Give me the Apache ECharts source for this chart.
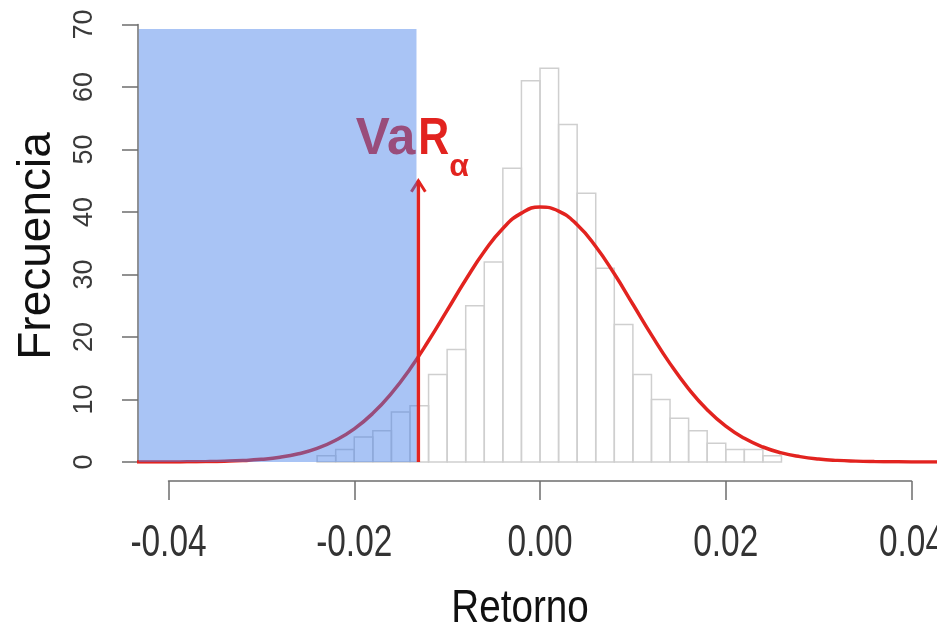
<!DOCTYPE html>
<html><head><meta charset="utf-8">
<script src="https://cdn.jsdelivr.net/npm/echarts/dist/echarts.min.js"></script>
<style>html,body{margin:0;padding:0;background:#fff}#c{width:937px;height:628px}</style>
</head><body><div id="c"></div>
<script>
// Histogram bins (left edges) and counts
const binStarts = [-0.024,-0.022,-0.020,-0.018,-0.016,-0.014,-0.012,-0.010,-0.008,-0.006,-0.004,-0.002,
                   0.000,0.002,0.004,0.006,0.008,0.010,0.012,0.014,0.016,0.018,0.020,0.022,0.024];
const binCounts = [1,2,4,5,8,9,14,18,25,32,47,61,63,54,43,31,22,14,10,7,5,3,2,2,1];
const BIN_WIDTH = 0.002;

// Fitted normal curve
const curveX = [-0.044,-0.042,-0.040,-0.038,-0.036,-0.034,-0.032,-0.030,-0.028,-0.026,-0.024,-0.022,-0.020,
                -0.018,-0.016,-0.014,-0.012,-0.010,-0.008,-0.006,-0.004,-0.002,0.000,0.002,0.004,0.006,
                0.008,0.010,0.012,0.014,0.016,0.018,0.020,0.022,0.024,0.026,0.028,0.030,0.032,0.034,
                0.036,0.038,0.040,0.042,0.044];
const curveY = [0.00,0.01,0.01,0.03,0.06,0.12,0.23,0.43,0.76,1.32,2.18,3.48,5.30,
                7.79,10.99,14.89,19.39,24.25,29.16,33.67,37.37,39.82,40.79,40.14,37.96,34.49,
                30.11,25.24,20.34,15.74,11.71,8.37,5.74,3.79,2.40,1.46,0.86,0.48,0.26,0.14,
                0.07,0.03,0.01,0.01,0.00];

// VaR annotation and shaded tail
const varValue = -0.0131;
const arrowTop = 45;
const labelY = 47.4;
const shadeFrom = -0.0432, shadeTo = -0.0133, shadeTop = 69.3;

// Axis ticks
const xTicks = [-0.04, -0.02, 0.00, 0.02, 0.04];
const xTickLabels = ['-0.04', '-0.02', '0.00', '0.02', '0.04'];
const yTicks = [0, 10, 20, 30, 40, 50, 60, 70];

const RED = '#e2231f';
const AXIS = '#6e6e6e';

const chart = echarts.init(document.getElementById('c'), null, {renderer: 'canvas'});

const option = {
  animation: false,
  backgroundColor: '#fff',
  grid: [
    {left: 138.8, top: 24.5, width: 798.7, height: 437.5, outerBoundsMode: 'none', containLabel: false},
    {left: 168.5, top: 24.5, width: 743, height: 456.5, outerBoundsMode: 'none', containLabel: false},
    {left: 138, top: 24.5, width: 10, height: 437.5, outerBoundsMode: 'none', containLabel: false}
  ],
  xAxis: [
    {gridIndex: 0, type: 'value', min: -0.0432, max: 0.0428, show: false},
    {gridIndex: 1, type: 'value', min: xTicks[0], max: xTicks[xTicks.length-1], interval: 0.02,
     axisLine: {show: true, lineStyle: {color: AXIS, width: 1.5}},
     axisTick: {show: true, length: 19, lineStyle: {color: AXIS, width: 1.5}},
     splitLine: {show: false},
     axisLabel: {show: false}},
    {gridIndex: 2, type: 'value', show: false, min: 0, max: 1}
  ],
  yAxis: [
    {gridIndex: 0, type: 'value', min: 0, max: 70, show: false},
    {gridIndex: 1, type: 'value', min: 0, max: 1, show: false},
    {gridIndex: 2, type: 'value', position: 'left', min: yTicks[0], max: yTicks[yTicks.length-1], interval: 10,
     axisLine: {show: true, lineStyle: {color: AXIS, width: 1.5}},
     axisTick: {show: true, length: 16, lineStyle: {color: AXIS, width: 1.5}},
     splitLine: {show: false},
     axisLabel: {rotate: 90, margin: 40, fontSize: 27, fontFamily: 'Liberation Sans, Arial', color: '#3a3a3a'}}
  ],
  graphic: [
    {type: 'text', x: 37, y: 246, rotation: Math.PI/2,
     style: {text: 'Frecuencia', font: '46px "Liberation Sans", Arial', fill: '#111', textAlign: 'center', textVerticalAlign: 'middle'}},
    {type: 'text', x: 520, y: 609, scaleX: 0.84,
     style: {text: 'Retorno', font: '46px "Liberation Sans", Arial', fill: '#111', textAlign: 'center', textVerticalAlign: 'middle'}}
  ],
  series: [
    {
      // x tick labels (condensed, as in the reference)
      type: 'custom', xAxisIndex: 1, yAxisIndex: 1, z: 5, silent: true, clip: false,
      data: xTicks.map((v, i) => [v, i]),
      renderItem(params, api) {
        const p = api.coord([api.value(0), 0]);
        return {type: 'text', x: p[0], y: p[1] + 63, scaleX: 0.76,
          style: {text: xTickLabels[api.value(1)], font: '44px "Liberation Sans", Arial', fill: '#333',
                  textAlign: 'center', textVerticalAlign: 'middle'}};
      }
    },
    {
      type: 'custom', xAxisIndex: 0, yAxisIndex: 0, z: 2, silent: true,
      data: binStarts.map((s, i) => [s, s + BIN_WIDTH, binCounts[i]]),
      renderItem(params, api) {
        const p0 = api.coord([api.value(0), 0]);
        const p1 = api.coord([api.value(1), api.value(2)]);
        return {type: 'rect',
          shape: {x: p0[0], y: p1[1], width: p1[0] - p0[0], height: p0[1] - p1[1]},
          style: {fill: 'rgba(255,255,255,0)', stroke: '#cfcfcf', lineWidth: 1.5}};
      }
    },
    {
      type: 'line', xAxisIndex: 0, yAxisIndex: 0, z: 3, silent: true,
      data: curveX.map((x, i) => [x, curveY[i]]),
      smooth: true, showSymbol: false, clip: true,
      lineStyle: {color: RED, width: 3.5}
    },
    {
      type: 'custom', xAxisIndex: 0, yAxisIndex: 0, z: 4, silent: true,
      data: [[varValue, arrowTop, labelY]],
      renderItem(params, api) {
        const b = api.coord([api.value(0), 0]);
        const t = api.coord([api.value(0), api.value(1)]);
        const l = api.coord([api.value(0), api.value(2)]);
        return {type: 'group', children: [
          {type: 'line', shape: {x1: b[0], y1: b[1], x2: t[0], y2: t[1]}, style: {stroke: RED, lineWidth: 3.5}},
          {type: 'polyline', shape: {points: [[t[0]-7, t[1]+11], [t[0], t[1]], [t[0]+7, t[1]+11]]},
           style: {stroke: RED, lineWidth: 3, fill: null}},
          {type: 'text', x: l[0] - 3, y: l[1],
           style: {text: 'Va', font: 'bold 51px "Liberation Sans", Arial', fill: RED, textAlign: 'right', textVerticalAlign: 'bottom'}},
          {type: 'text', x: l[0], y: l[1], scaleX: 0.84,
           style: {text: 'R', font: 'bold 51px "Liberation Sans", Arial', fill: RED, textAlign: 'left', textVerticalAlign: 'bottom'}},
          {type: 'text', x: l[0] + 31, y: l[1] + 17,
           style: {text: 'α', font: 'bold 32px "Liberation Sans", "DejaVu Sans", Arial', fill: RED, textAlign: 'left', textVerticalAlign: 'bottom'}}
        ]};
      }
    },
    {
      type: 'custom', xAxisIndex: 0, yAxisIndex: 0, z: 10, silent: true,
      data: [[shadeFrom, shadeTo, shadeTop]],
      renderItem(params, api) {
        const p0 = api.coord([api.value(0), 0]);
        const p1 = api.coord([api.value(1), api.value(2)]);
        return {type: 'rect',
          shape: {x: p0[0], y: p1[1], width: p1[0] - p0[0], height: p0[1] - p1[1]},
          style: {fill: 'rgba(68,127,233,0.46)'}};
      }
    }
  ]
};
chart.setOption(option);
</script>
</body></html>
